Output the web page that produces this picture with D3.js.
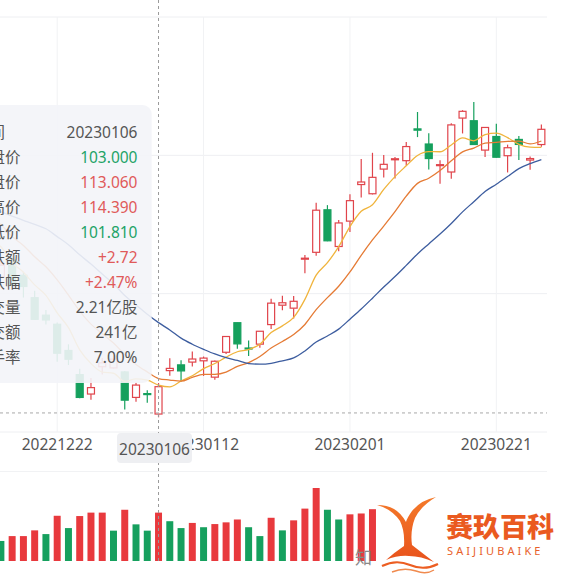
<!DOCTYPE html>
<html>
<head>
<meta charset="utf-8">
<script src="https://cdnjs.cloudflare.com/ajax/libs/d3/7.8.5/d3.min.js"></script>
<style>
	body { margin: 0; background: #fff; }
	svg { display: block; font-family: "Noto Sans", "Noto Sans CJK SC", sans-serif; }
</style>
</head>
<body>
<div id="chart"></div>
<script>
//---------------- data ----------------------
var dates = ["20221214","20221215","20221216","20221219","20221220","20221221","20221222","20221223","20221227","20221228",
	"20221229","20221230","20230103","20230104","20230105","20230106","20230109","20230110","20230111","20230112",
	"20230113","20230117","20230118","20230119","20230120","20230123","20230124","20230125","20230126","20230127",
	"20230130","20230131","20230201","20230202","20230203","20230206","20230207","20230208","20230209","20230210",
	"20230213","20230214","20230215","20230216","20230217","20230221","20230222","20230223","20230224","20230227"];

var opens = [159.25,153.44,159.64,154.00,145.76,139.34,136.00,126.37,117.50,110.35,
	120.39,119.95,118.47,109.11,110.51,103.00,118.96,121.07,122.09,122.56,
	116.55,125.70,136.56,127.26,128.68,135.87,143.00,141.91,159.97,162.43,
	178.05,164.57,173.89,187.33,183.95,193.01,196.43,196.10,207.78,202.23,
	194.42,191.94,211.76,210.78,199.99,204.99,197.93,203.91,196.33,202.03];

var highs = [161.62,160.93,160.99,155.25,148.29,141.26,136.63,128.62,119.67,116.27,
	123.57,124.48,118.80,114.59,111.75,114.39,123.52,122.76,125.95,124.13,
	122.63,131.70,136.68,129.99,133.51,145.38,146.50,146.41,161.42,180.68,
	179.77,174.30,183.81,196.75,199.00,198.17,197.50,203.00,214.00,206.20,
	196.30,209.82,214.66,217.65,208.44,209.71,201.99,205.14,197.67,209.42];

var lows = [155.31,153.28,150.04,145.82,137.67,135.89,122.26,121.02,108.76,108.24,
	117.50,119.75,104.64,107.52,107.16,101.81,117.11,114.92,120.51,117.00,
	115.60,125.02,127.01,124.31,127.35,134.27,141.10,138.07,154.76,161.17,
	166.50,162.78,169.93,182.61,183.69,189.92,189.55,194.31,204.77,192.89,
	187.61,189.44,206.11,201.84,197.50,197.22,191.78,196.33,192.80,201.26];

var closes = [156.80,157.67,150.23,149.87,137.80,137.57,125.35,123.15,109.10,112.71,
	121.82,123.18,108.10,113.64,110.34,113.06,119.77,118.85,123.22,123.56,
	122.40,131.49,128.78,127.17,133.42,143.75,143.89,144.43,160.27,177.90,
	166.66,173.22,181.41,188.27,189.98,194.76,196.81,201.29,207.32,196.89,
	194.64,209.25,214.24,202.04,208.31,197.37,200.86,202.07,196.88,207.63];

var ma5 = [167.61,164.46,158.69,155.10,150.47,146.63,140.16,134.75,126.59,121.58,
	118.43,117.99,114.98,115.89,115.42,113.66,112.98,115.13,117.05,119.69,
	121.56,123.90,125.89,126.68,128.65,132.92,135.40,138.53,145.15,154.05,
	158.63,164.50,171.89,177.49,179.91,185.53,190.25,194.22,198.03,199.41,
	199.39,201.88,204.47,203.41,205.70,206.24,204.56,202.13,201.10,200.96];

var ma10 = [176.39,172.69,168.23,164.97,160.77,157.12,152.31,146.72,140.85,136.03,
	132.53,129.08,124.87,121.24,118.50,116.05,115.49,115.06,116.47,117.55,
	117.61,118.44,120.51,121.86,124.17,127.24,129.65,132.21,135.92,141.35,
	145.78,149.95,155.21,161.32,166.98,172.08,177.37,183.06,187.76,189.66,
	192.46,196.06,199.35,200.72,202.56,202.82,203.22,203.30,202.26,203.33];

var ma20 = [178.83,177.36,175.72,174.20,172.70,171.08,168.19,165.20,161.51,158.10,
	154.46,150.88,146.55,143.11,139.63,136.58,133.90,130.89,128.66,126.79,
	125.07,123.76,122.69,121.55,121.33,121.64,122.57,123.63,126.19,129.45,
	131.69,134.20,137.86,141.59,145.58,149.66,153.51,157.63,161.84,165.51,
	169.12,173.01,177.28,181.02,184.77,187.45,190.30,193.18,195.01,196.50];

// volume in millions of shares
var volumes = [140,122,139,139,159,146,210,167,209,221,
	221,158,231,180,158,221,191,167,185,170,
	181,187,197,170,139,203,159,194,235,307,
	231,197,215,218,233,186,186,181,215,205,
	172,216,181,230,213,180,192,146,142,161];

var volUp = [0,0,1,1,1,0,1,0,1,1,
	1,0,1,0,0,1,0,0,1,0,
	1,1,1,0,0,1,0,1,1,1,
	0,0,1,1,1,1,1,1,0,0,
	1,1,1,0,1,0,1,0,1,1];

var xLabels = ["20221222", "20230112", "20230201", "20230221"];

var tipLabels = ["时间", "开盘价", "收盘价", "最高价", "最低价", "涨跌额", "涨跌幅", "成交量", "成交额", "换手率"];
var tipValues = ["20230106", "103.000", "113.060", "114.390", "101.810", "+2.72", "+2.47%", "2.21亿股", "241亿", "7.00%"];
var tipTones = ["n", "g", "r", "r", "g", "r", "r", "n", "n", "n"];

var crossDate = "20230106";
var crossPrice = 103.4;

//---------------- sizes and colors ----------------------
var w = 564;
var h = 582;
var plotTop = 17;
var plotBottom = 432;
var plotRight = 547;
var volTop = 471.5;
var volBottom = 561;

var upColor = "#e0444b";
var downColor = "#15a05d";
var volUpColor = "#e8393d";
var volDownColor = "#16a05e";
var maColors = ["#f0b43c", "#e57b35", "#3d5d9f"];

//---------------- scales ----------------------
var xScale = d3.scaleBand()
		.domain(dates)
		.range([-16, plotRight]);

var yDomain = [96.4, 248.9];
var yScale = d3.scaleLinear()
		.domain(yDomain)
		.range([plotBottom, plotTop]);

var volScale = d3.scaleLinear()
		.domain([52, 307])
		.range([volBottom, 488]);

function cx(d) {
	return xScale(d) + xScale.bandwidth() / 2;
}

var svg = d3.select("#chart").append("svg")
		.attr("width", w)
		.attr("height", h);

var defs = svg.append("defs");
defs.append("clipPath").attr("id", "plotClip")
	.append("rect")
	.attr("x", 0).attr("y", 0)
	.attr("width", plotRight).attr("height", h);

//---------------- grid ----------------------
var yTicks = d3.range(4).map(function(k) {
	return yDomain[0] + k * (yDomain[1] - yDomain[0]) / 3;
});

var grid = svg.append("g").attr("class", "grid");

grid.selectAll("line.h")
	.data(yTicks)
	.enter()
	.append("line")
	.attr("x1", 0)
	.attr("x2", plotRight)
	.attr("y1", function(d) { return yScale(d); })
	.attr("y2", function(d) { return yScale(d); })
	.attr("stroke", "#eeeff2")
	.attr("stroke-width", 1);

grid.selectAll("line.v")
	.data(xLabels)
	.enter()
	.append("line")
	.attr("x1", function(d) { return cx(d); })
	.attr("x2", function(d) { return cx(d); })
	.attr("y1", plotTop)
	.attr("y2", plotBottom)
	.attr("stroke", "#f1f2f4")
	.attr("stroke-width", 1);

grid.append("line")
	.attr("x1", 0)
	.attr("x2", plotRight)
	.attr("y1", volTop)
	.attr("y2", volTop)
	.attr("stroke", "#f1f2f4");

//---------------- candles ----------------------
var plot = svg.append("g").attr("clip-path", "url(#plotClip)");

var bodyW = xScale.bandwidth() * 0.62;

var candles = plot.append("g").selectAll("g")
	.data(d3.range(dates.length))
	.enter()
	.append("g");

candles.each(function(i) {
	var g = d3.select(this);
	var up = closes[i] >= opens[i];
	var col = up ? upColor : downColor;
	var x = cx(dates[i]);
	var top = yScale(Math.max(opens[i], closes[i]));
	var bot = yScale(Math.min(opens[i], closes[i]));

	g.append("line")
		.attr("x1", x).attr("x2", x)
		.attr("y1", yScale(highs[i])).attr("y2", top)
		.attr("stroke", col).attr("stroke-width", 1.2);
	g.append("line")
		.attr("x1", x).attr("x2", x)
		.attr("y1", bot).attr("y2", yScale(lows[i]))
		.attr("stroke", col).attr("stroke-width", 1.2);
	g.append("rect")
		.attr("x", x - bodyW / 2)
		.attr("y", top)
		.attr("width", bodyW)
		.attr("height", Math.max(1, bot - top))
		.attr("fill", up ? "#fff" : col)
		.attr("stroke", col)
		.attr("stroke-width", 1.2);
});

//---------------- moving averages ----------------------
var maLine = d3.line()
		.x(function(d, i) { return cx(dates[i]); })
		.y(function(d) { return yScale(d); })
		.curve(d3.curveMonotoneX);

[ma5, ma10, ma20].forEach(function(series, k) {
	plot.append("path")
		.attr("d", maLine(series))
		.attr("fill", "none")
		.attr("stroke", maColors[k])
		.attr("stroke-width", 1.3);
});

//---------------- volume ----------------------
plot.append("g").selectAll("rect")
	.data(volumes)
	.enter()
	.append("rect")
	.attr("x", function(d, i) { return cx(dates[i]) - bodyW / 2; })
	.attr("y", function(d) { return volScale(d); })
	.attr("width", bodyW)
	.attr("height", function(d) { return volBottom - volScale(d); })
	.attr("fill", function(d, i) { return volUp[i] ? volUpColor : volDownColor; });

//---------------- x axis labels ----------------------
svg.append("g").selectAll("text")
	.data(xLabels)
	.enter()
	.append("text")
	.attr("x", function(d) { return cx(d); })
	.attr("y", 450)
	.attr("text-anchor", "middle")
	.attr("font-size", "15.5px")
	.attr("fill", "#555")
	.text(function(d) { return d; });

//---------------- crosshair ----------------------
var crossX = cx(crossDate);

svg.append("line")
	.attr("x1", crossX).attr("x2", crossX)
	.attr("y1", 0).attr("y2", volBottom)
	.attr("stroke", "#9a9a9a")
	.attr("stroke-width", 1)
	.attr("stroke-dasharray", "3,3");

svg.append("line")
	.attr("x1", 0).attr("x2", plotRight)
	.attr("y1", yScale(crossPrice)).attr("y2", yScale(crossPrice))
	.attr("stroke", "#a8a8a8")
	.attr("stroke-width", 1)
	.attr("stroke-dasharray", "3,3");

var crossLabel = svg.append("g")
		.attr("transform", "translate(" + (crossX - 4) + ",448)");
crossLabel.append("rect")
	.attr("x", -37.5).attr("y", -15)
	.attr("width", 75).attr("height", 30)
	.attr("rx", 4)
	.attr("fill", "#eeeff2");
crossLabel.append("text")
	.attr("y", 7)
	.attr("text-anchor", "middle")
	.attr("font-size", "15.5px")
	.attr("fill", "#555")
	.text(crossDate);

//---------------- tooltip ----------------------
var tip = svg.append("g").attr("class", "tooltip");

tip.append("rect")
	.attr("x", -40).attr("y", 105)
	.attr("width", 191.7).attr("height", 278)
	.attr("rx", 9)
	.attr("fill", "#f3f4f8")
	.attr("fill-opacity", 0.9);

var rows = tip.selectAll("g.row")
	.data(tipLabels)
	.enter()
	.append("g")
	.attr("transform", function(d, i) { return "translate(0," + (138 + i * 25) + ")"; });

rows.append("text")
	.attr("x", -26)
	.attr("font-size", "15.5px")
	.attr("fill", "#555")
	.text(function(d) { return d; });

rows.append("text")
	.attr("x", 137.5)
	.attr("text-anchor", "end")
	.attr("font-size", "15.5px")
	.attr("fill", function(d, i) {
		if (tipTones[i] == "g") return "#22a367";
		if (tipTones[i] == "r") return "#e05a5a";
		return "#555";
	})
	.text(function(d, i) { return tipValues[i]; });

//---------------- watermark logo ----------------------
svg.append("text")
	.attr("x", 355).attr("y", 564)
	.attr("font-size", "17px")
	.attr("font-family", "Noto Sans CJK SC")
	.attr("fill", "#8a8a8a")
	.text("知");

var logo = svg.append("g").attr("class", "logo");

logo.append("rect")
	.attr("x", 376).attr("y", 472)
	.attr("width", w - 376).attr("height", h - 472)
	.attr("fill", "#fff");

var grad = defs.append("linearGradient")
		.attr("id", "tailGrad")
		.attr("x1", 0).attr("y1", 0).attr("x2", 0).attr("y2", 1);
grad.append("stop").attr("offset", "0%").attr("stop-color", "#f47a2a");
grad.append("stop").attr("offset", "100%").attr("stop-color", "#e8521c");

logo.append("path")
	.attr("d", "M377,505 Q392,509 400,521 Q405,531 404,546 Q395,552 386,560 Q398,555 409,556 Q421,556 434,562 Q421,552 412,545 Q410,531 415,518 Q421,506 436,497 Q421,500 412,511 Q407,518 406,522 Q401,513 394,509 Q387,505 377,505 Z")
	.attr("fill", "url(#tailGrad)");

logo.append("path")
	.attr("d", "M382,566 Q396,559 410,565 Q424,571 438,564")
	.attr("fill", "none")
	.attr("stroke", "#ec5e22")
	.attr("stroke-width", 2.2);

logo.append("path")
	.attr("d", "M392,572 Q404,567 416,571 Q426,575 434,570")
	.attr("fill", "none")
	.attr("stroke", "#f08a4e")
	.attr("stroke-width", 1.4);

logo.append("text")
	.attr("x", 446).attr("y", 537)
	.attr("font-size", "27px")
	.attr("font-weight", 900)
	.attr("font-family", "Noto Sans CJK SC")
	.attr("fill", "#ea5a1f")
	.text("赛玖百科");

logo.append("text")
	.attr("x", 447).attr("y", 555)
	.attr("font-size", "11px")
	.attr("letter-spacing", "3.1px")
	.attr("fill", "#e8612a")
	.text("SAIJIUBAIKE");
</script>
</body>
</html>
